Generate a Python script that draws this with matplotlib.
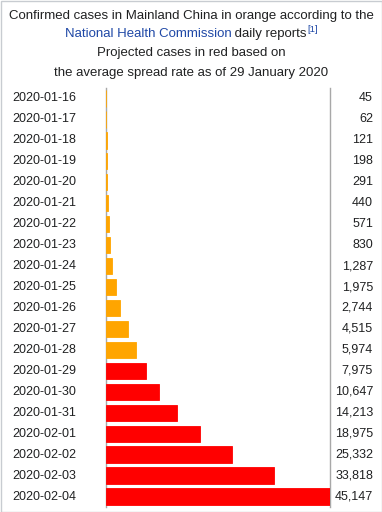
import matplotlib
matplotlib.use("Agg")
import matplotlib.pyplot as plt
from matplotlib.patches import Rectangle

plt.rcParams['font.family'] = ['Liberation Sans', 'DejaVu Sans']

# data
dates = ['2020-01-16', '2020-01-17', '2020-01-18', '2020-01-19', '2020-01-20',
         '2020-01-21', '2020-01-22', '2020-01-23', '2020-01-24', '2020-01-25',
         '2020-01-26', '2020-01-27', '2020-01-28', '2020-01-29', '2020-01-30',
         '2020-01-31', '2020-02-01', '2020-02-02', '2020-02-03', '2020-02-04']
cases = [45, 62, 121, 198, 291, 440, 571, 830, 1287, 1975, 2744, 4515, 5974,
         7975, 10647, 14213, 18975, 25332, 33818, 45147]
confirmed_days = 13  # first 13 are confirmed (orange), rest projected (red)

W, H = 382, 512
fig = plt.figure(figsize=(W / 100, H / 100), dpi=100)
fig.patch.set_facecolor('white')

# outer border
fig.add_artist(Rectangle((0.5 / W, 0.5 / H), (W - 1) / W, (H - 1) / H,
                         transform=fig.transFigure, fill=False,
                         edgecolor='#c8ccd1', lw=1))

top, bottom = 88, 507
left, right = 106, 330
ax = fig.add_axes([left / W, 1 - bottom / H, (right - left) / W, (bottom - top) / H])

colors = ['#ffa500' if i < confirmed_days else '#ff0000' for i in range(len(cases))]
y = list(range(len(cases)))
# thin edge in the bar colour so the tiny bars still show as a 1px line
ax.barh(y, cases, height=0.78, color=colors, edgecolor=colors, linewidth=0.6)
ax.set_xlim(0, max(cases))
ax.set_ylim(len(cases) - 0.5, -0.5)
ax.set_xticks([])
ax.set_yticks([])
for s in ['top', 'bottom']:
    ax.spines[s].set_visible(False)
for s in ['left', 'right']:
    ax.spines[s].set_color('#a8a8a8')
    ax.spines[s].set_linewidth(1)
    ax.spines[s].set_zorder(0.5)

txt = '#202122'
for i, (d, c) in enumerate(zip(dates, cases)):
    ax.text(-94 / (right - left), i, d, transform=ax.get_yaxis_transform(),
            ha='left', va='center', fontsize=9, color=txt)
    ax.text(1 + 43 / (right - left), i, f'{c:,}', transform=ax.get_yaxis_transform(),
            ha='right', va='center', fontsize=9, color=txt)

# title
fs = 9.5
fig.text(0.5, 1 - 16 / H, 'Confirmed cases in Mainland China in orange according to the',
         ha='center', va='center', fontsize=fs, color=txt)
fig.text(0.5, 1 - 53 / H, 'Projected cases in red based on',
         ha='center', va='center', fontsize=fs, color=txt)
fig.text(0.5, 1 - 73 / H, 'the average spread rate as of 29 January 2020',
         ha='center', va='center', fontsize=fs, color=txt)

# second line with link colour and superscript
link = '#1f48a6'
parts = [('National Health Commission', link, fs, 0),
         (' daily reports', txt, fs, 0),
         ('[1]', link, fs * 0.72, 4)]
renderer = fig.canvas.get_renderer()
texts = []
widths = []
for s, col, size, dy in parts:
    t = fig.text(0, 1 - 34 / H + dy / H, s, ha='left', va='center', fontsize=size, color=col)
    bb = t.get_window_extent(renderer)
    texts.append(t)
    widths.append(bb.width)
x = (W - sum(widths)) / 2
for t, w in zip(texts, widths):
    t.set_x(x / W)
    x += w

fig.savefig('out.png', dpi=100)
